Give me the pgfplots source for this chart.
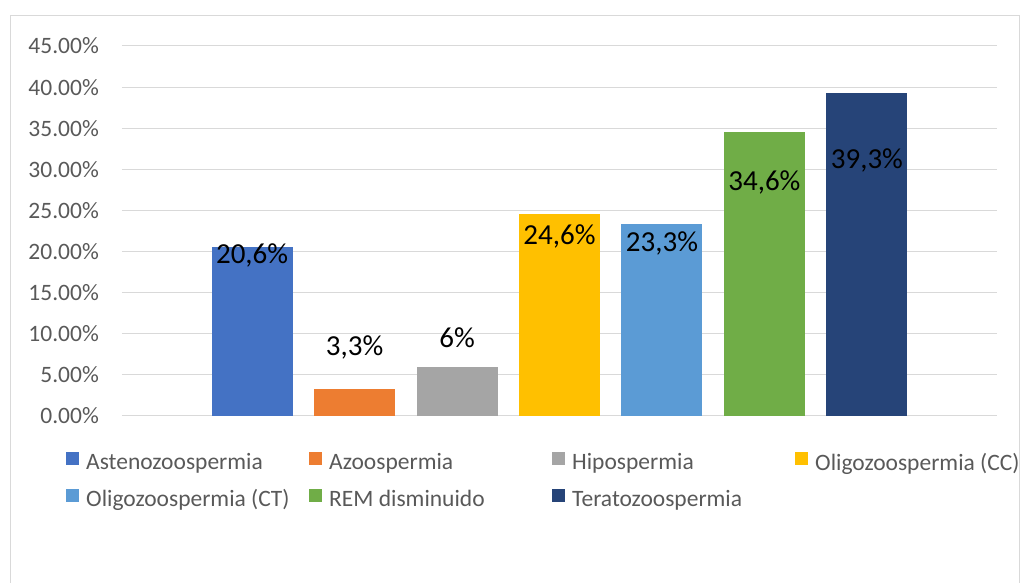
\documentclass[border=0pt]{standalone}
\usepackage{pgfplots}
\pgfplotsset{compat=1.18}
\usepackage{fontspec}
\setmainfont{Carlito}
\definecolor{c1}{HTML}{4472C4}
\definecolor{c2}{HTML}{ED7D31}
\definecolor{c3}{HTML}{A5A5A5}
\definecolor{c4}{HTML}{FFC000}
\definecolor{c5}{HTML}{5B9BD5}
\definecolor{c6}{HTML}{70AD47}
\definecolor{c7}{HTML}{264478}
\definecolor{gridc}{HTML}{D9D9D9}
\definecolor{txt}{HTML}{595959}
\pgfplotsset{
  mybar/.style n args={3}{fill=#1, draw=none, bar shift=0pt,
    nodes near coords={#2},
    every node near coord/.style={anchor=center, yshift=#3, inner sep=0pt,
      font=\fontsize{29}{30}\selectfont, text=black},
    legend image code/.code={\fill[fill=#1] (0pt,-3pt) rectangle (13pt,10pt);}},
}
\newcommand{\legtxt}[1]{\makebox[223pt][l]{#1}}
\begin{document}
\begin{tikzpicture}
\useasboundingbox (0,0) rectangle (1026pt,583pt);
\draw[gridc, line width=1pt] (10.5pt,0) -- (10.5pt,567pt) -- (1019.5pt,567pt) -- (1019.5pt,0);
\begin{axis}[
  at={(122pt,167pt)}, anchor=south west,
  scale only axis, width=875pt, height=370pt,
  ybar, bar width=0.79,
  xmin=-1.27, xmax=7.27, ymin=0, ymax=45,
  xtick=\empty,
  ytick={0,5,10,15,20,25,30,35,40,45},
  yticklabels={0.00\%,5.00\%,10.00\%,15.00\%,20.00\%,25.00\%,30.00\%,35.00\%,40.00\%,45.00\%},
  ymajorgrids, grid style={gridc, line width=1pt},
  axis line style={draw=none},
  tick style={draw=none}, major tick length=0pt,
  yticklabel style={font=\fontsize{23.5}{24}\selectfont, text=txt, inner sep=0pt, anchor=east, xshift=-23pt},
  legend columns=4,
  legend style={draw=none, fill=none, inner sep=0pt, nodes={inner sep=0pt, text=txt},
    font=\fontsize{23.5}{24}\selectfont,
    at={(-0.064,-0.098)}, anchor=north west,
    /tikz/every odd column/.append style={column sep=7pt},
    row sep=17pt},
  clip=false,
]
\addplot[mybar={c1}{20,6\%}{-9pt}] coordinates {(0,20.6)};
\addlegendentry{\legtxt{Astenozoospermia}}
\addplot[mybar={c2}{3,3\%}{41pt}] coordinates {(1,3.3)};
\addlegendentry{\legtxt{Azoospermia}}
\addplot[mybar={c3}{6\%}{29pt}] coordinates {(2,6)};
\addlegendentry{\legtxt{Hipospermia}}
\addplot[mybar={c4}{24,6\%}{-23pt}] coordinates {(3,24.6)};
\addlegendentry{\legtxt{Oligozoospermia (CC)}}
\addplot[mybar={c5}{23,3\%}{-19pt}] coordinates {(4,23.3)};
\addlegendentry{\legtxt{Oligozoospermia (CT)}}
\addplot[mybar={c6}{34,6\%}{-51pt}] coordinates {(5,34.6)};
\addlegendentry{\legtxt{REM disminuido}}
\addplot[mybar={c7}{39,3\%}{-68pt}] coordinates {(6,39.3)};
\addlegendentry{\legtxt{Teratozoospermia}}
\end{axis}
\end{tikzpicture}
\end{document}
